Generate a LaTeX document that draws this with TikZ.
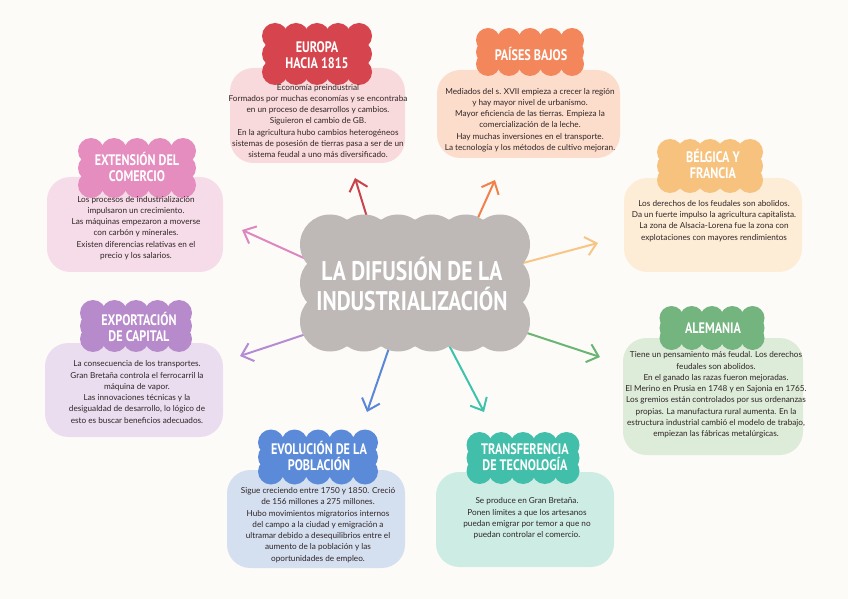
\documentclass[tikz,border=0pt]{standalone}
\usepackage{fontspec}
\setmainfont{Lato}
\newfontfamily\headfont[FakeStretch=0.8]{PT Sans}
\usetikzlibrary{arrows.meta}

\definecolor{bgcol}{HTML}{FDFBF8}
\definecolor{bodytext}{HTML}{2F2525}
\definecolor{hubcol}{HTML}{BEB9B7}
% header colours
\definecolor{hEurcol}{HTML}{D6454D}
\definecolor{hPaicol}{HTML}{F3875B}
\definecolor{hExtcol}{HTML}{E48DBE}
\definecolor{hBelcol}{HTML}{F6C27E}
\definecolor{hExpcol}{HTML}{B78BCB}
\definecolor{hAlecol}{HTML}{74B47F}
\definecolor{hEvocol}{HTML}{5B8BD8}
\definecolor{hTracol}{HTML}{42BFAA}
% box colours
\definecolor{bEurcol}{HTML}{F9DADC}
\definecolor{bPaicol}{HTML}{FCDDCC}
\definecolor{bExtcol}{HTML}{F6DCE8}
\definecolor{bBelcol}{HTML}{FDEDD6}
\definecolor{bExpcol}{HTML}{EBDDF0}
\definecolor{bAlecol}{HTML}{DDEBD9}
\definecolor{bEvocol}{HTML}{D4DFF0}
\definecolor{bTracol}{HTML}{CDEDE4}
% arrow colours
\definecolor{aEur}{HTML}{C9434C}
\definecolor{aPai}{HTML}{F2804A}
\definecolor{aExt}{HTML}{DE86C0}
\definecolor{aBel}{HTML}{F7C585}
\definecolor{aExp}{HTML}{B48CD3}
\definecolor{aAle}{HTML}{6AB474}
\definecolor{aEvo}{HTML}{5B87D8}
\definecolor{aTra}{HTML}{3DC2AC}

\pgfdeclarelayer{back}
\pgfdeclarelayer{mid}
\pgfsetlayers{back,mid,main}

% scalloped patch: centre x, centre y, width, height, radius, bumps along x, inner bumps along y, colour
\newcommand{\scallopfill}[8]{%
  \fill[#8] ({#1-#3/2},{#2-#4/2}) rectangle ({#1+#3/2},{#2+#4/2});
  \foreach \i in {0,...,#6} {
    \fill[#8] ({#1-#3/2+\i*#3/#6},{#2-#4/2}) circle[radius=#5*0.03cm];
    \fill[#8] ({#1-#3/2+\i*#3/#6},{#2+#4/2}) circle[radius=#5*0.03cm];
  }
  \foreach \j in {1,...,#7} {
    \fill[#8] ({#1-#3/2},{#2-#4/2+\j*#4/(#7+1)}) circle[radius=#5*0.03cm];
    \fill[#8] ({#1+#3/2},{#2-#4/2+\j*#4/(#7+1)}) circle[radius=#5*0.03cm];
  }
}

\begin{document}
\begin{tikzpicture}[x=0.03cm, y=-0.03cm,
    box/.style n args={3}{fill=#3, rounded corners=0.7cm, minimum width=#1*0.03cm, minimum height=#2*0.03cm, inner sep=0pt},
    head/.style={text=white, font=\headfont\bfseries\fontsize{13}{14}\selectfont, align=center, inner sep=0pt},
    body/.style={text=bodytext, font=\fontsize{7}{9.6}\selectfont, align=center, inner sep=0pt},
    arr/.style={draw=#1, line width=1.7pt, line cap=round, -{Straight Barb[length=9pt,width=16pt]}}
]
    % Background
    \begin{pgfonlayer}{back}
        \fill[bgcol] (0,0) rectangle (848,599);
    \end{pgfonlayer}

    % Central cloud
    \scallopfill{415}{283}{170}{77}{30}{5}{1}{hubcol}
    \node[text=white, font=\headfont\bfseries\fontsize{23}{25}\selectfont, align=center, inner sep=0pt,
          minimum width=190*0.03cm, minimum height=97*0.03cm] (hub) at (412,284)
          {LA DIFUSIÓN DE LA\\INDUSTRIALIZACIÓN};

    % Boxes
    \node[box={175}{95}{bEurcol}] (bEur) at (317.5,115.5) {};
    \node[box={183}{88}{bPaicol}] (bPai) at (528.5,114) {};
    \node[box={176}{95}{bExtcol}] (bExt) at (135,224.5) {};
    \node[box={178}{94}{bBelcol}] (bBel) at (713,225) {};
    \node[box={178}{94}{bExpcol}] (bExp) at (134,390) {};
    \node[box={180}{117}{bAlecol}] (bAle) at (713,396.5) {};
    \node[box={178}{98}{bEvocol}] (bEvo) at (316,519) {};
    \node[box={178}{95}{bTracol}] (bTra) at (525,519.5) {};

    % Headers
    \scallopfill{317}{54}{84}{36}{13}{4}{1}{hEurcol}
    \node[head] (hEur) at (317,55) {EUROPA\\HACIA 1815};
    \scallopfill{530}{52}{84}{24}{12}{4}{1}{hPaicol}
    \node[head] (hPai) at (531,54) {PAÍSES BAJOS};
    \scallopfill{137}{168}{92}{34}{13}{4}{1}{hExtcol}
    \node[head] (hExt) at (137,167) {EXTENSIÓN DEL\\COMERCIO};
    \scallopfill{710}{166}{80}{28}{13}{4}{1}{hBelcol}
    \node[head] (hBel) at (713,164) {BÉLGICA Y\\FRANCIA};
    \scallopfill{136}{326}{86}{26}{13}{4}{1}{hExpcol}
    \node[head] (hExp) at (139,327) {EXPORTACIÓN\\DE CAPITAL};
    \scallopfill{712}{328}{81}{20}{12}{4}{1}{hAlecol}
    \node[head] (hAle) at (713,328) {ALEMANIA};
    \scallopfill{318}{457}{94}{29}{13}{4}{1}{hEvocol}
    \node[head] (hEvo) at (319,456) {EVOLUCIÓN DE LA\\POBLACIÓN};
    \scallopfill{523}{458}{87}{26}{13}{4}{1}{hTracol}
    \node[head] (hTra) at (525,457) {TRANSFERENCIA\\DE TECNOLOGÍA};

    % Texts
    \node[body] (tEur) at (318,121) {Economía preindustrial\\Formados por muchas economías y se encontraba\\en un proceso de desarrollos y cambios.\\Siguieron el cambio de GB.\\En la agricultura hubo cambios heterogéneos\\sistemas de posesión de tierras pasa a ser de un\\sistema feudal a uno más diversificado.};
    \node[body] (tPai) at (530,120) {Mediados del s. XVII empieza a crecer la región\\y hay mayor nivel de urbanismo.\\Mayor eficiencia de las tierras. Empieza la\\comercialización de la leche.\\Hay muchas inversiones en el transporte.\\La tecnología y los métodos de cultivo mejoran.};
    \node[body] (tExt) at (136,228) {Los procesos de industrialización\\impulsaron un crecimiento.\\Las máquinas empezaron a moverse\\con carbón y minerales.\\Existen diferencias relativas en el\\precio y los salarios.};
    \node[body] (tBel) at (714,221) {Los derechos de los feudales son abolidos.\\Da un fuerte impulso la agricultura capitalista.\\La zona de Alsacia-Lorena fue la zona con\\explotaciones con mayores rendimientos};
    \node[body] (tExp) at (137,392) {La consecuencia de los transportes.\\Gran Bretaña controla el ferrocarril  la\\máquina de vapor.\\Las innovaciones técnicas y la\\desigualdad de desarrollo, lo lógico de\\esto es buscar beneficios adecuados.};
    \node[body] (tAle) at (716,395) {Tiene un pensamiento más feudal. Los derechos\\feudales son abolidos.\\En el ganado las razas fueron mejoradas.\\El Merino en Prusia en 1748 y en Sajonia en 1765.\\Los gremios están controlados por sus ordenanzas\\propias. La manufactura rural aumenta. En la\\estructura industrial cambió el modelo de trabajo,\\empiezan las fábricas metalúrgicas.};
    \node[body] (tEvo) at (318,525) {Sigue creciendo entre 1750 y 1850. Creció\\de 156 millones a 275 millones.\\Hubo movimientos migratorios internos\\del campo a la ciudad y emigración a\\ultramar debido a desequilibrios entre el\\aumento de la población y las\\oportunidades de empleo.};
    \node[body] (tTra) at (527,518.5) {Se produce en Gran Bretaña.\\Ponen límites a que los artesanos\\puedan emigrar por temor a que no\\puedan controlar el comercio.};

    % Arrow tips
    \coordinate (pEur) at (355,178);
    \coordinate (pPai) at (495,180);
    \coordinate (pExt) at (242,230);
    \coordinate (pBel) at (598,243);
    \coordinate (pExp) at (240,356);
    \coordinate (pEvo) at (367,412);
    \coordinate (pTra) at (484,412);
    \coordinate (pAle) at (600,357);

    % Arrows from the cloud
    \begin{pgfonlayer}{mid}
        \draw[arr=aEur] (hub.129) -- (pEur);
        \draw[arr=aPai] (hub.40.5) -- (pPai);
        \draw[arr=aExt] (hub.168) -- (pExt);
        \draw[arr=aBel] (hub.10) -- (pBel);
        \draw[arr=aExp] (hub.206) -- (pExp);
        \draw[arr=aEvo] (hub.250) -- (pEvo);
        \draw[arr=aTra] (hub.302) -- (pTra);
        \draw[arr=aAle] (hub.336) -- (pAle);
    \end{pgfonlayer}
\end{tikzpicture}
\end{document}
